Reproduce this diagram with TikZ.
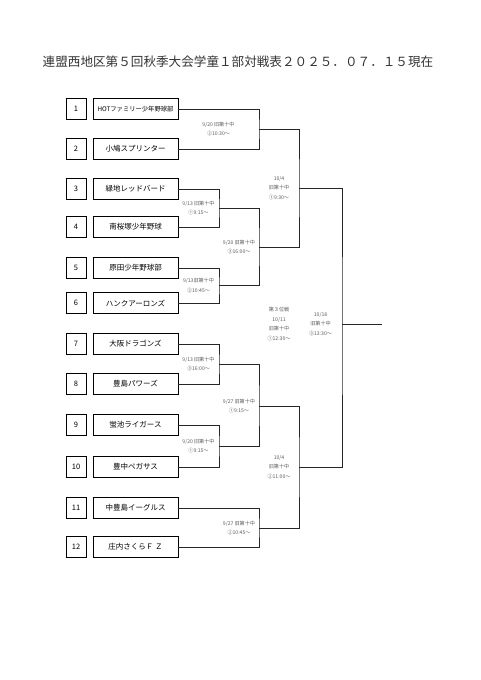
\documentclass[tikz,border=0pt]{standalone}
\usepackage{fontspec}
\setmainfont{Noto Sans CJK JP}
\begin{document}
\begin{tikzpicture}[x=1pt, y=-1pt, every node/.style={font=\fontsize{7.5}{9}\selectfont}]
  \tikzstyle{num}=[draw, line width=0.8pt, minimum width=20pt, minimum height=21pt, inner sep=0pt]
  \tikzstyle{team}=[draw, line width=0.8pt, minimum width=85pt, minimum height=21pt, inner sep=0pt]
  \tikzstyle{info}=[align=center, inner sep=0pt, text=black!65, font=\fontsize{5.1}{9.8}\selectfont]
  \tikzstyle{br}=[line width=0.7pt, black!85]
  \useasboundingbox (0,0) rectangle (480,680);
  \node[text=black!80, font=\fontsize{12.6}{14}\selectfont] (title) at (238,62)
    {連盟西地区第５回秋季大会学童１部対戦表２０２５．０７．１５現在};
  % teams
  \foreach \i/\y/\name in {1/109/{\fontsize{6.3}{7}\selectfont HOTファミリー少年野球部},
      2/149/小鳩スプリンター, 3/189/緑地レッドバード, 4/227/南桜塚少年野球,
      5/268/原田少年野球部, 6/303/ハンクアーロンズ, 7/344/大阪ドラゴンズ,
      8/384/豊島パワーズ, 9/425/蛍池ライガース, 10/467/豊中ペガサス,
      11/508/中豊島イーグルス, 12/547/庄内さくらＦ Ｚ} {
    \node[num] (n\i) at (76,\y) {\i};
    \node[team] (t\i) at (135.5,\y) {\name};
  }
  % bracket points
  \coordinate (w12) at (259,129);
  \coordinate (w34) at (219,208);
  \coordinate (w56) at (219,285.5);
  \coordinate (w36) at (259,247);
  \coordinate (s1) at (299,188);
  \coordinate (w78) at (219,364);
  \coordinate (w910) at (219,446);
  \coordinate (w710) at (259,406);
  \coordinate (w1112) at (259,528);
  \coordinate (s2) at (299,467);
  \coordinate (fin) at (342,324);
  \coordinate (champ) at (382,324);
  \draw[br] (t1.east) -| (w12) |- (t2.east);
  \draw[br] (t3.east) -| (w34) |- (t4.east);
  \draw[br] (t5.east) -| (w56) |- (t6.east);
  \draw[br] (w34) -| (w36) |- (w56);
  \draw[br] (w12) -| (s1) |- (w36);
  \draw[br] (t7.east) -| (w78) |- (t8.east);
  \draw[br] (t9.east) -| (w910) |- (t10.east);
  \draw[br] (w78) -| (w710) |- (w910);
  \draw[br] (t11.east) -| (w1112) |- (t12.east);
  \draw[br] (w710) -| (s2) |- (w1112);
  \draw[br] (s1) -| (fin) |- (s2);
  \draw[br] (fin) -- (champ);
  % match info
  \node[info] (d12) at (218.5,129) {9/20 旧第十中\\②10:30～};
  \node[info] (d34) at (198.5,208) {9/13 旧第十中\\①9:15～};
  \node[info] (d56) at (198.5,285.5) {9/13旧第十中\\②10:45～};
  \node[info] (d36) at (239,247) {9/20 旧第十中\\③16:00～};
  \node[info] (ds1) at (279,188) {10/4\\旧第十中\\①9:30～};
  \node[info] (d78) at (198.5,364) {9/13 旧第十中\\③16:00～};
  \node[info] (d910) at (198.5,446) {9/20 旧第十中\\①9:15～};
  \node[info] (d710) at (239,406) {9/27 旧第十中\\①9:15～};
  \node[info] (d1112) at (239,528) {9/27 旧第十中\\②10:45～};
  \node[info] (ds2) at (279,467) {10/4\\旧第十中\\②11:00～};
  \node[info] (d3rd) at (279,324) {第３位戦\\10/11\\旧第十中\\①12:30～};
  \node[info] (dfin) at (320.5,324) {10/18\\旧第十中\\③13:30～};
\end{tikzpicture}
\end{document}
